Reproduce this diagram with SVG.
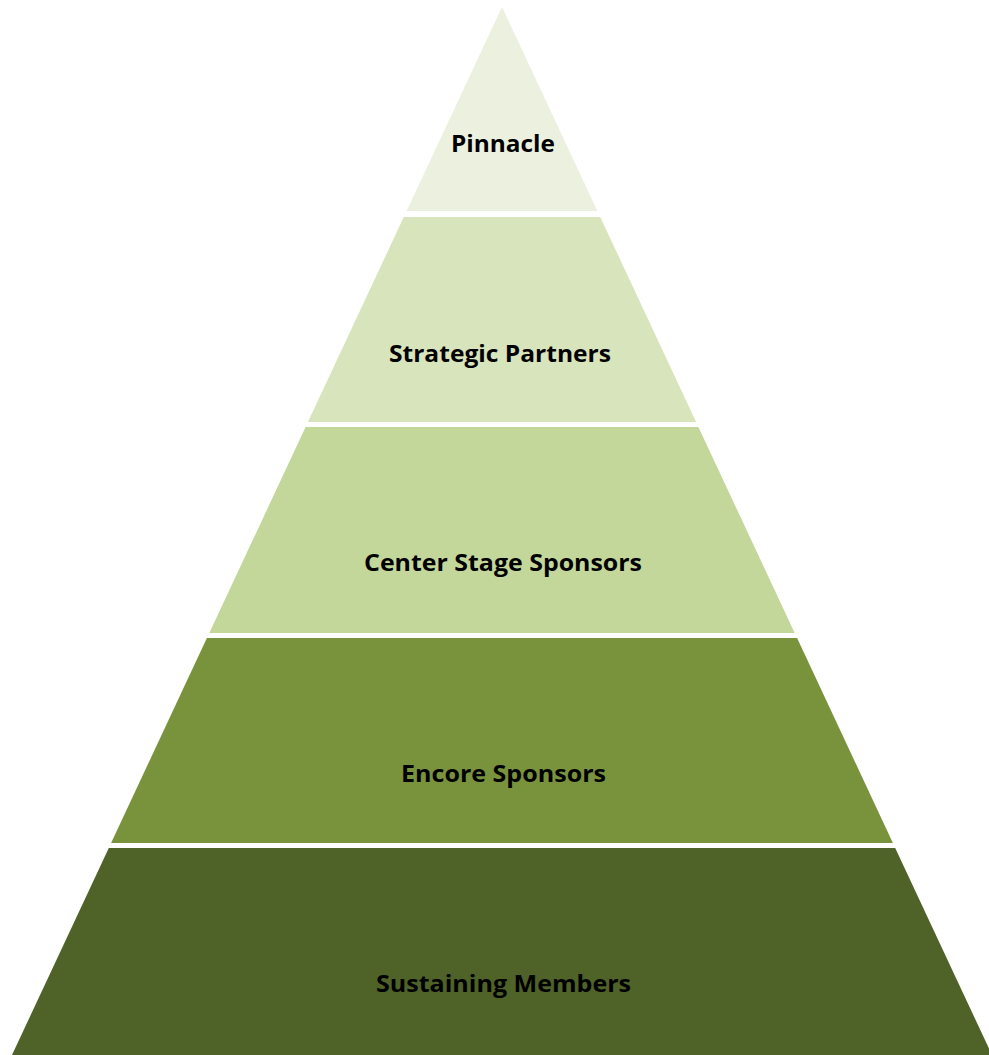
<svg xmlns="http://www.w3.org/2000/svg" width="989" height="1055" viewBox="0 0 989 1055">
<style>
.lbl{font-family:"Open Sans","Liberation Sans",sans-serif;font-weight:bold;font-size:23px;fill:#000;text-anchor:middle}
</style>
<rect width="989" height="1055" fill="#fff"/>
<g id="level1">
<polygon points="502,7 597.4,211 406.6,211" fill="#EBF1DE"/>
<text class="lbl" x="503" y="152" textLength="104" lengthAdjust="spacingAndGlyphs">Pinnacle</text>
</g>
<g id="level2">
<polygon points="403.8,217 600.2,217 696.1,422 307.9,422" fill="#D8E4BC"/>
<text class="lbl" x="500" y="362" textLength="222" lengthAdjust="spacingAndGlyphs">Strategic Partners</text>
</g>
<g id="level3">
<polygon points="305.6,427 698.4,427 794.7,633 209.3,633" fill="#C4D79B"/>
<text class="lbl" x="503" y="571" textLength="278" lengthAdjust="spacingAndGlyphs">Center Stage Sponsors</text>
</g>
<g id="level4">
<polygon points="206.9,638 797.1,638 892.9,843 111.1,843" fill="#79933D"/>
<text class="lbl" x="503.5" y="782" textLength="205" lengthAdjust="spacingAndGlyphs">Encore Sponsors</text>
</g>
<g id="level5">
<polygon points="108.8,848 895.2,848 992,1055 12,1055" fill="#4F6228"/>
<text class="lbl" x="503.5" y="992" textLength="255" lengthAdjust="spacingAndGlyphs">Sustaining Members</text>
</g>
<g id="connectors"/>
</svg>
